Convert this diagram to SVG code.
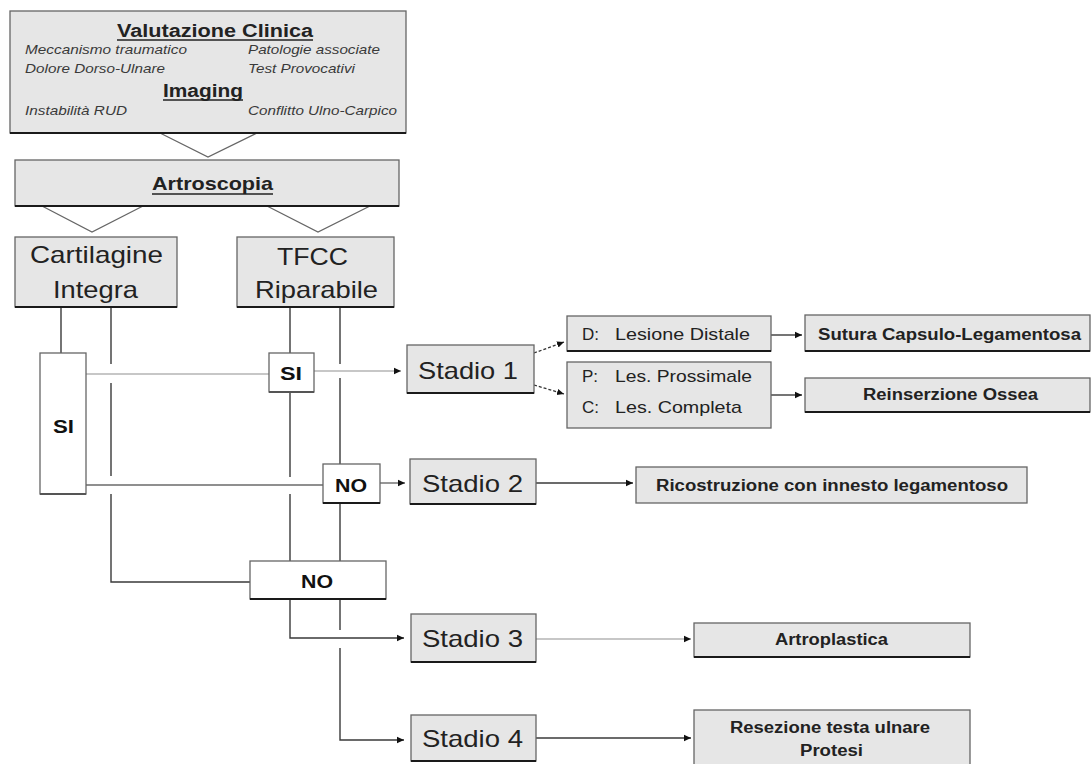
<svg xmlns="http://www.w3.org/2000/svg" width="1092" height="764" viewBox="0 0 1092 764">
<style>
.box{fill:#e6e6e6;stroke:#666;stroke-width:1.3}
.wbox{fill:#ffffff;stroke:#666;stroke-width:1.3}
.bot{stroke:#1a1a1a;stroke-width:1.8}
.chev{fill:none;stroke:#666;stroke-width:1.3}
.ln{fill:none;stroke:#3a3a3a;stroke-width:1.4}
.lt{fill:none;stroke:#b4b4b4;stroke-width:1.4}
.md{fill:none;stroke:#6a6a6a;stroke-width:1.4}
.ds{fill:none;stroke:#333;stroke-width:1.3;stroke-dasharray:3 2}
.ul{stroke:#222;stroke-width:1.4}
text{font-family:"Liberation Sans",Arial,sans-serif;fill:#222}
.h{font-weight:bold;font-size:18px}
.it{font-style:italic;font-size:13px;fill:#3a3a3a}
.big{font-size:24px}
.st{font-size:24px}
.sm{font-size:17px}
.b{font-weight:bold;font-size:16px}
.yn{font-weight:bold;font-size:18px;fill:#111}
</style>
<defs>
<marker id="ah" markerUnits="userSpaceOnUse" markerWidth="8" markerHeight="8" refX="7" refY="4" orient="auto">
<path d="M0,0.8 L7,4 L0,7.2 z" fill="#111"/>
</marker>
</defs>
<rect width="1092" height="764" fill="#ffffff"/>

<g id="connectors">
<path class="chev" d="M160,133 L208,157 L257,133"/>
<path class="chev" d="M42,206 L92,232 L143,206"/>
<path class="chev" d="M267,206 L318,232 L370,206"/>
<path class="ln" d="M61,307 V353"/>
<path class="ln" d="M111,307 V364 M111,383 V476 M111,494 V582 H250"/>
<path class="ln" d="M290,307 V353 M290,392 V477 M290,494 V561"/>
<path class="ln" d="M290,599 V638 H404" marker-end="url(#ah)"/>
<path class="ln" d="M340,307 V364 M340,378 V464 M340,503 V561 M340,599 V630"/>
<path class="ln" d="M340,648 V740 H404" marker-end="url(#ah)"/>
<path class="lt" d="M86,374 H269"/>
<path class="md" d="M86,485 H323"/>
<path class="lt" d="M314,371 H401" marker-end="url(#ah)"/>
<path class="md" d="M380,483 H405" marker-end="url(#ah)"/>
<path class="ds" d="M534,353 L564,342" marker-end="url(#ah)"/>
<path class="ds" d="M534,385 L564,394" marker-end="url(#ah)"/>
<path class="ln" d="M771,335 H802" marker-end="url(#ah)"/>
<path class="ln" d="M771,395 H802" marker-end="url(#ah)"/>
<path class="ln" d="M536,483 H633" marker-end="url(#ah)"/>
<path class="lt" d="M536,639 H691" marker-end="url(#ah)"/>
<path class="ln" d="M536,738 H691" marker-end="url(#ah)"/>
</g>

<g id="valutazione">
<rect class="box" x="10" y="11" width="396" height="122"/>
<line class="bot" x1="10" y1="133" x2="406" y2="133"/>
<text class="h" x="117" y="37" textLength="196" lengthAdjust="spacingAndGlyphs">Valutazione Clinica</text>
<line class="ul" x1="117" y1="40" x2="313" y2="40"/>
<text class="it" x="25" y="54" textLength="162" lengthAdjust="spacingAndGlyphs">Meccanismo traumatico</text>
<text class="it" x="248" y="54" textLength="132" lengthAdjust="spacingAndGlyphs">Patologie associate</text>
<text class="it" x="25" y="73" textLength="140" lengthAdjust="spacingAndGlyphs">Dolore Dorso-Ulnare</text>
<text class="it" x="248" y="73" textLength="107" lengthAdjust="spacingAndGlyphs">Test Provocativi</text>
<text class="h" x="163" y="97" textLength="80" lengthAdjust="spacingAndGlyphs">Imaging</text>
<line class="ul" x1="163" y1="100" x2="243" y2="100"/>
<text class="it" x="25" y="115" textLength="102" lengthAdjust="spacingAndGlyphs">Instabilità RUD</text>
<text class="it" x="248" y="115" textLength="149" lengthAdjust="spacingAndGlyphs">Conflitto Ulno-Carpico</text>
</g>

<g id="artroscopia">
<rect class="box" x="15" y="160" width="384" height="46"/>
<line class="bot" x1="15" y1="206" x2="399" y2="206"/>
<text class="h" style="font-size:19px" x="152" y="190" textLength="121" lengthAdjust="spacingAndGlyphs">Artroscopia</text>
<line class="ul" x1="152" y1="194" x2="273" y2="194"/>
</g>

<g id="cartilagine">
<rect class="box" x="15" y="237" width="162" height="70"/>
<line class="bot" x1="15" y1="307" x2="177" y2="307"/>
<text class="big" x="30" y="263" textLength="133" lengthAdjust="spacingAndGlyphs">Cartilagine</text>
<text class="big" x="53" y="298" textLength="85" lengthAdjust="spacingAndGlyphs">Integra</text>
</g>

<g id="tfcc">
<rect class="box" x="237" y="237" width="157" height="70"/>
<line class="bot" x1="237" y1="307" x2="394" y2="307"/>
<text class="big" x="277" y="265" textLength="71" lengthAdjust="spacingAndGlyphs">TFCC</text>
<text class="big" x="255" y="298" textLength="123" lengthAdjust="spacingAndGlyphs">Riparabile</text>
</g>

<g id="si-cart">
<rect class="wbox" x="40" y="353" width="46" height="141"/>
<line class="bot" x1="40" y1="494" x2="86" y2="494" style="stroke:#555"/>
<text class="yn" x="53" y="433" textLength="21" lengthAdjust="spacingAndGlyphs">SI</text>
</g>

<g id="si-tfcc">
<rect class="wbox" x="269" y="353" width="45" height="39"/>
<line class="bot" x1="269" y1="392" x2="314" y2="392" style="stroke:#555"/>
<text class="yn" x="280" y="380" textLength="22" lengthAdjust="spacingAndGlyphs">SI</text>
</g>

<g id="no-tfcc">
<rect class="wbox" x="323" y="464" width="57" height="39"/>
<line class="bot" x1="323" y1="503" x2="380" y2="503"/>
<text class="yn" x="335" y="492" textLength="32" lengthAdjust="spacingAndGlyphs">NO</text>
</g>

<g id="no-cart">
<rect class="wbox" x="250" y="561" width="136" height="38"/>
<line class="bot" x1="250" y1="599" x2="386" y2="599"/>
<text class="yn" x="301" y="588" textLength="32" lengthAdjust="spacingAndGlyphs">NO</text>
</g>

<g id="stadio1">
<rect class="box" x="407" y="345" width="127" height="48"/>
<line class="bot" x1="407" y1="393" x2="534" y2="393"/>
<text class="st" x="418" y="379" textLength="100" lengthAdjust="spacingAndGlyphs">Stadio 1</text>
</g>

<g id="stadio2">
<rect class="box" x="410" y="459" width="126" height="45"/>
<line class="bot" x1="410" y1="504" x2="536" y2="504"/>
<text class="st" x="422" y="492" textLength="101" lengthAdjust="spacingAndGlyphs">Stadio 2</text>
</g>

<g id="stadio3">
<rect class="box" x="411" y="614" width="125" height="48"/>
<line class="bot" x1="411" y1="662" x2="536" y2="662"/>
<text class="st" x="422" y="647" textLength="101" lengthAdjust="spacingAndGlyphs">Stadio 3</text>
</g>

<g id="stadio4">
<rect class="box" x="411" y="715" width="125" height="46"/>
<line class="bot" x1="411" y1="761" x2="536" y2="761"/>
<text class="st" x="422" y="747" textLength="101" lengthAdjust="spacingAndGlyphs">Stadio 4</text>
</g>

<g id="lesione-distale">
<rect class="box" x="567" y="316" width="204" height="35"/>
<line class="bot" x1="567" y1="351" x2="771" y2="351"/>
<text class="sm" x="582" y="340">D:</text>
<text class="sm" x="615" y="340" textLength="135" lengthAdjust="spacingAndGlyphs">Lesione Distale</text>
</g>

<g id="lesione-pc">
<rect class="box" x="567" y="362" width="204" height="66"/>
<text class="sm" x="582" y="382">P:</text>
<text class="sm" x="615" y="382" textLength="137" lengthAdjust="spacingAndGlyphs">Les. Prossimale</text>
<text class="sm" x="582" y="413">C:</text>
<text class="sm" x="615" y="413" textLength="127" lengthAdjust="spacingAndGlyphs">Les. Completa</text>
</g>

<g id="sutura">
<rect class="box" x="805" y="315" width="285" height="36"/>
<line class="bot" x1="805" y1="351" x2="1090" y2="351"/>
<text class="b" x="818" y="340" textLength="263" lengthAdjust="spacingAndGlyphs">Sutura Capsulo-Legamentosa</text>
</g>

<g id="reinserzione">
<rect class="box" x="805" y="378" width="285" height="34"/>
<line class="bot" x1="805" y1="412" x2="1090" y2="412"/>
<text class="b" x="863" y="400" textLength="175" lengthAdjust="spacingAndGlyphs">Reinserzione Ossea</text>
</g>

<g id="ricostruzione">
<rect class="box" x="636" y="467" width="391" height="36"/>
<text class="b" x="656" y="491" textLength="352" lengthAdjust="spacingAndGlyphs">Ricostruzione con innesto legamentoso</text>
</g>

<g id="artroplastica">
<rect class="box" x="694" y="623" width="276" height="34"/>
<line class="bot" x1="694" y1="657" x2="970" y2="657"/>
<text class="b" x="775" y="645" textLength="113" lengthAdjust="spacingAndGlyphs">Artroplastica</text>
</g>

<g id="resezione">
<rect class="box" x="694" y="710" width="276" height="62"/>
<text class="b" x="730" y="733" textLength="200" lengthAdjust="spacingAndGlyphs">Resezione testa ulnare</text>
<text class="b" x="800" y="756" textLength="63" lengthAdjust="spacingAndGlyphs">Protesi</text>
</g>
</svg>
